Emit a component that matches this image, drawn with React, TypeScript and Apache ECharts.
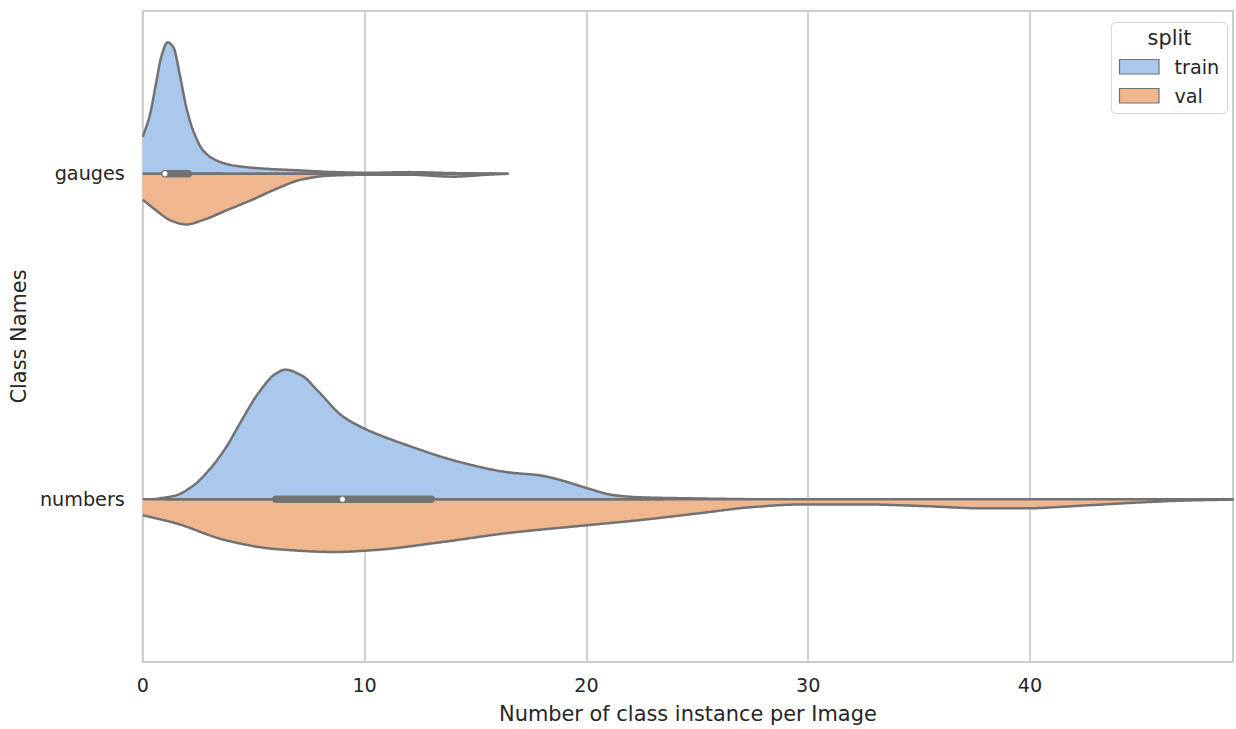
import React, { useEffect, useRef } from "react";
import * as echarts from "echarts";

// ---------- data ----------
const classNames = ["gauges", "numbers"];
const splits = ["train", "val"];
const xTicks = [0, 10, 20, 30, 40];
const xMax = 49.15;

// half-widths are expressed as a fraction of the category band
const gaugesTrainX = [0, 0.31, 0.61, 0.84, 1.12, 1.38, 1.68, 1.98, 2.29, 2.74, 3.35, 4.11, 5.63, 7.15, 8.67, 10.2, 12.0, 14.0, 16.45];
const gaugesTrainW = [0.113, 0.178, 0.282, 0.361, 0.404, 0.389, 0.3, 0.199, 0.129, 0.07, 0.04, 0.025, 0.015, 0.01, 0.005, 0.003, 0.005, 0.002, 0];

const gaugesValX = [0, 0.61, 1.27, 1.96, 2.64, 3.86, 4.93, 6.14, 7.15, 8.37, 10.2, 12.0, 14.0, 15.5, 16.45];
const gaugesValW = [0.08, 0.113, 0.144, 0.156, 0.144, 0.11, 0.08, 0.043, 0.018, 0.006, 0.003, 0.003, 0.009, 0.003, 0];

const numbersTrainX = [0.52, 1.5, 2.24, 2.99, 3.74, 4.48, 5.23, 5.98, 6.43, 7.17, 7.92, 8.97, 9.87, 11.96, 14.2, 16.44, 17.94, 18.83, 20.03, 21.2, 22.4, 24.5, 27.5];
const numbersTrainW = [0, 0.012, 0.04, 0.09, 0.158, 0.245, 0.328, 0.385, 0.398, 0.38, 0.331, 0.257, 0.221, 0.165, 0.116, 0.083, 0.073, 0.059, 0.034, 0.013, 0.006, 0.003, 0];

const numbersValX = [0, 1.5, 3.74, 5.98, 8.67, 10.46, 13.45, 16.44, 20.0, 22.42, 25.1, 27.5, 29.7, 32.5, 35.2, 37.9, 39.7, 42.5, 45.2, 47.0, 49.15];
const numbersValW = [0.049, 0.074, 0.126, 0.153, 0.162, 0.156, 0.132, 0.104, 0.08, 0.064, 0.043, 0.024, 0.016, 0.016, 0.021, 0.028, 0.028, 0.019, 0.009, 0.004, 0.001];

// inner box (per class)
const boxQ1 = [1.0, 6.0];
const boxQ3 = [2.05, 13.0];
const boxMedian = [1.0, 9.0];
const whiskerLo = [1.0, 1.0];
const whiskerHi = [3.6, 23.5];

// ---------- style ----------
const FILLS = ["#a9c8eb", "#f0b68e"];
const EDGE = "#727272";
const TEXT = "#262626";
const GRIDC = "#cccccc";
const FONT = "DejaVu Sans";

const violins = [
  { cat: 0, split: 0, xs: gaugesTrainX, ws: gaugesTrainW },
  { cat: 0, split: 1, xs: gaugesValX, ws: gaugesValW },
  { cat: 1, split: 0, xs: numbersTrainX, ws: numbersTrainW },
  { cat: 1, split: 1, xs: numbersValX, ws: numbersValW },
];

// monotone cubic (Fritsch–Carlson) rendering of a curve given in pixel space
function monotoneSample(pts: number[][], step = 1.5): number[][] {
  const n = pts.length;
  if (n < 3) return pts.slice();
  const dx: number[] = [];
  const m: number[] = [];
  for (let i = 0; i < n - 1; i++) {
    dx[i] = pts[i + 1][0] - pts[i][0];
    m[i] = dx[i] === 0 ? 0 : (pts[i + 1][1] - pts[i][1]) / dx[i];
  }
  const t: number[] = new Array(n).fill(0);
  t[0] = m[0];
  t[n - 1] = m[n - 2];
  for (let i = 1; i < n - 1; i++) {
    if (m[i - 1] * m[i] <= 0) t[i] = 0;
    else {
      const w1 = 2 * dx[i] + dx[i - 1];
      const w2 = dx[i] + 2 * dx[i - 1];
      t[i] = (w1 + w2) / (w1 / m[i - 1] + w2 / m[i]);
    }
  }
  const out: number[][] = [];
  for (let i = 0; i < n - 1; i++) {
    const segs = Math.max(1, Math.ceil(dx[i] / step));
    for (let s = 0; s < segs; s++) {
      const u = s / segs;
      const u2 = u * u;
      const u3 = u2 * u;
      const h00 = 2 * u3 - 3 * u2 + 1;
      const h10 = u3 - 2 * u2 + u;
      const h01 = -2 * u3 + 3 * u2;
      const h11 = u3 - u2;
      const y = h00 * pts[i][1] + h10 * dx[i] * t[i] + h01 * pts[i + 1][1] + h11 * dx[i] * t[i + 1];
      out.push([pts[i][0] + u * dx[i], y]);
    }
  }
  out.push(pts[n - 1].slice());
  return out;
}

export default function App() {
  const ref = useRef<HTMLDivElement>(null);

  useEffect(() => {
    if (!ref.current) return;
    const chart = echarts.init(ref.current, undefined, { renderer: "svg" });

    const violinRender = (params: any, api: any) => {
      const v = violins[params.dataIndex];
      const band = api.size([0, 1])[1];
      const base = api.coord([0, v.cat])[1];
      const dir = v.split === 0 ? -1 : 1;
      const raw = v.xs.map((x: number, i: number) => [api.coord([x, v.cat])[0], dir * v.ws[i] * band]);
      const curve = monotoneSample(raw).map((p) => [p[0], base + p[1]]);
      const x0 = curve[0][0];
      const x1 = curve[curve.length - 1][0];
      const fillPts = [...curve, [x1, base], [x0, base]];
      const strokePts = [...curve, [x1, base], [x0, base]];
      return {
        type: "group",
        children: [
          {
            type: "polygon",
            shape: { points: fillPts },
            style: { fill: FILLS[v.split], stroke: "none" },
          },
          {
            type: "polyline",
            shape: { points: strokePts },
            style: { fill: "none", stroke: EDGE, lineWidth: 2.5, lineJoin: "round" },
          },
        ],
      };
    };

    const boxRender = (params: any, api: any) => {
      const i = params.dataIndex;
      const y = api.coord([0, i])[1];
      const wl = api.coord([whiskerLo[i], i])[0];
      const wh = api.coord([whiskerHi[i], i])[0];
      const q1 = api.coord([boxQ1[i], i])[0];
      const q3 = api.coord([boxQ3[i], i])[0];
      const md = api.coord([boxMedian[i], i])[0];
      return {
        type: "group",
        children: [
          { type: "line", shape: { x1: wl, y1: y, x2: wh, y2: y }, style: { stroke: EDGE, lineWidth: 2.5 } },
          { type: "line", shape: { x1: q1, y1: y, x2: q3, y2: y }, style: { stroke: EDGE, lineWidth: 7.5, lineCap: "round" } },
          { type: "circle", shape: { cx: md, cy: y, r: 2.6 }, style: { fill: "#ffffff", stroke: "none" } },
        ],
      };
    };

    const legendX = 1111.5;
    const legendY = 22.5;

    chart.setOption({
      animation: false,
      backgroundColor: "#ffffff",
      grid: {
        left: 140,
        right: 0,
        top: 11,
        bottom: 62,
        show: true,
        borderColor: GRIDC,
        borderWidth: 2,
        backgroundColor: "transparent",
      },
      xAxis: {
        type: "value",
        min: 0,
        max: xMax,
        interval: 10,
        name: "Number of class instance per Image",
        nameLocation: "middle",
        nameGap: 41,
        nameTextStyle: { fontFamily: FONT, fontSize: 20.9, color: TEXT },
        axisLine: { show: false },
        axisTick: { show: false },
        axisLabel: {
          margin: 14,
          fontFamily: FONT,
          fontSize: 19.2,
          color: TEXT,
          formatter: (v: number) => (xTicks.includes(v) ? String(v) : ""),
        },
        splitLine: { show: true, lineStyle: { color: GRIDC, width: 1.75 } },
      },
      yAxis: {
        type: "category",
        data: classNames,
        inverse: true,
        name: "Class Names",
        nameLocation: "middle",
        nameGap: 112,
        nameTextStyle: { fontFamily: FONT, fontSize: 20.9, color: TEXT },
        axisLine: { show: false },
        axisTick: { show: false },
        axisLabel: { margin: 18, fontFamily: FONT, fontSize: 19.2, color: TEXT },
        splitLine: { show: false },
      },
      series: [
        {
          type: "custom",
          name: "violins",
          clip: true,
          renderItem: violinRender,
          encode: { x: 0, y: 1 },
          data: violins.map((v) => [0, v.cat]),
          z: 2,
        },
        {
          type: "custom",
          name: "box",
          clip: true,
          renderItem: boxRender,
          encode: { x: 0, y: 1 },
          data: classNames.map((_, i) => [boxMedian[i], i]),
          z: 3,
        },
      ],
      graphic: [
        {
          type: "rect",
          z: 10,
          shape: { x: legendX, y: legendY, width: 116, height: 91, r: 4 },
          style: { fill: "rgba(255,255,255,0.85)", stroke: "#d6d6d6", lineWidth: 1 },
        },
        {
          type: "text",
          z: 11,
          x: legendX + 58,
          y: legendY + 15.5,
          style: {
            text: "split",
            fontFamily: FONT,
            fontSize: 20.9,
            fill: TEXT,
            align: "center",
            verticalAlign: "middle",
          },
        },
        ...splits.flatMap((s, i) => [
          {
            type: "rect",
            z: 11,
            shape: { x: legendX + 8, y: legendY + 37 + i * 29, width: 39.5, height: 14.5 },
            style: { fill: FILLS[i], stroke: EDGE, lineWidth: 1.2 },
          },
          {
            type: "text",
            z: 11,
            x: legendX + 63,
            y: legendY + 44.5 + i * 29,
            style: {
              text: s,
              fontFamily: FONT,
              fontSize: 19.2,
              fill: TEXT,
              align: "left",
              verticalAlign: "middle",
            },
          },
        ]),
      ],
    });

    return () => chart.dispose();
  }, []);

  return (
    <div
      ref={ref}
      style={{ position: "fixed", left: 0, top: 0, width: 1236, height: 729, background: "#ffffff" }}
    />
  );
}
